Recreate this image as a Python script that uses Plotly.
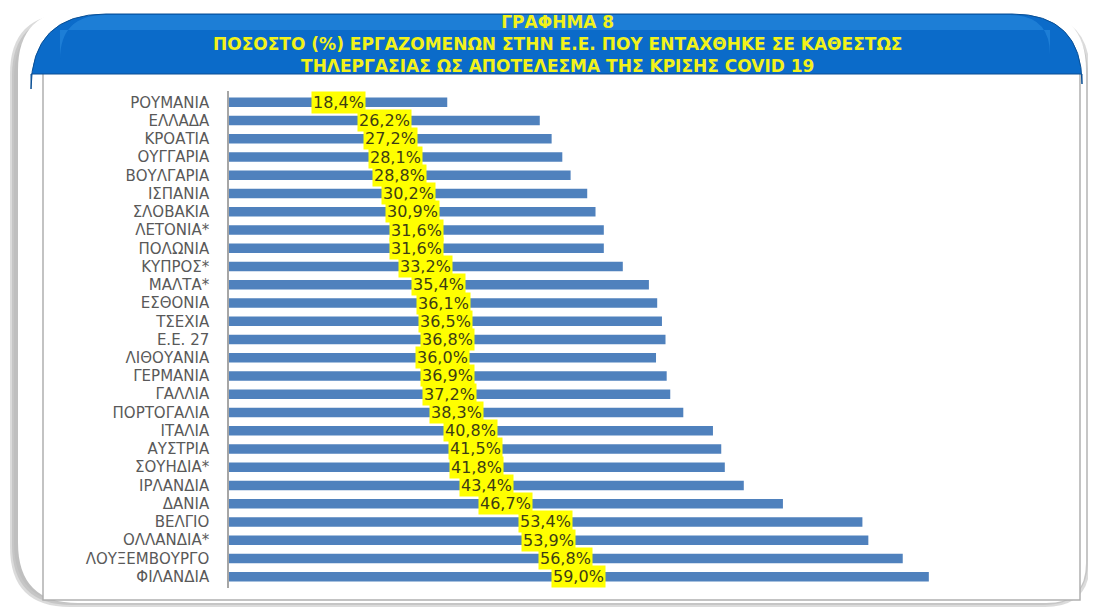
import plotly.graph_objects as go

# page body has an 8px margin: figure is sized to fit the window exactly
OFF = 8
W, H = 1096 - OFF, 608 - OFF

countries = ["ΡΟΥΜΑΝΙΑ", "ΕΛΛΑΔΑ", "ΚΡΟΑΤΙΑ", "ΟΥΓΓΑΡΙΑ", "ΒΟΥΛΓΑΡΙΑ", "ΙΣΠΑΝΙΑ",
             "ΣΛΟΒΑΚΙΑ", "ΛΕΤΟΝΙΑ*", "ΠΟΛΩΝΙΑ", "ΚΥΠΡΟΣ*", "ΜΑΛΤΑ*", "ΕΣΘΟΝΙΑ",
             "ΤΣΕΧΙΑ", "Ε.Ε. 27", "ΛΙΘΟΥΑΝΙΑ", "ΓΕΡΜΑΝΙΑ", "ΓΑΛΛΙΑ", "ΠΟΡΤΟΓΑΛΙΑ",
             "ΙΤΑΛΙΑ", "ΑΥΣΤΡΙΑ", "ΣΟΥΗΔΙΑ*", "ΙΡΛΑΝΔΙΑ", "ΔΑΝΙΑ", "ΒΕΛΓΙΟ",
             "ΟΛΛΑΝΔΙΑ*", "ΛΟΥΞΕΜΒΟΥΡΓΟ", "ΦΙΛΑΝΔΙΑ"]
values = [18.4, 26.2, 27.2, 28.1, 28.8, 30.2, 30.9, 31.6, 31.6, 33.2, 35.4, 36.1,
          36.5, 36.8, 36.0, 36.9, 37.2, 38.3, 40.8, 41.5, 41.8, 43.4, 46.7, 53.4,
          53.9, 56.8, 59.0]
title_lines = ["ΓΡΑΦΗΜΑ 8",
               "ΠΟΣΟΣΤΟ (%) ΕΡΓΑΖΟΜΕΝΩΝ ΣΤΗΝ Ε.Ε. ΠΟΥ ΕΝΤΑΧΘΗΚΕ ΣΕ ΚΑΘΕΣΤΩΣ",
               "ΤΗΛΕΡΓΑΣΙΑΣ ΩΣ ΑΠΟΤΕΛΕΣΜΑ ΤΗΣ ΚΡΙΣΗΣ COVID 19"]


def px(x):
    return (x - OFF) / W


def py(y):
    return 1 - (y - OFF) / H


def rounded(x0, y0, x1, y1, rtl, rtr, rbr, rbl):
    p = [f"M {px(x0 + rtl)} {py(y0)}",
         f"L {px(x1 - rtr)} {py(y0)}",
         f"Q {px(x1)} {py(y0)} {px(x1)} {py(y0 + rtr)}",
         f"L {px(x1)} {py(y1 - rbr)}",
         f"Q {px(x1)} {py(y1)} {px(x1 - rbr)} {py(y1)}",
         f"L {px(x0 + rbl)} {py(y1)}",
         f"Q {px(x0)} {py(y1)} {px(x0)} {py(y1 - rbl)}",
         f"L {px(x0)} {py(y0 + rtl)}",
         f"Q {px(x0)} {py(y0)} {px(x0 + rtl)} {py(y0)}",
         "Z"]
    return " ".join(p)


labels = [f"{v:.1f}".replace(".", ",") + "%" for v in values]

fig = go.Figure()
fig.add_trace(go.Bar(
    y=countries, x=values, orientation="h",
    marker=dict(color="#4F81BD", line=dict(width=0)),
    width=0.52, hoverinfo="skip",
))

shapes = []
for i, (c, o) in enumerate([("#e3e3e3", 1.0), ("#c4c4c4", 0.6), ("#a6a6a6", 0.4)]):
    d = 6 - 2 * i
    shapes.append(dict(type="path", xref="paper", yref="paper", layer="below",
                       path=rounded(8 + d, 12 + d, 1092 - d, 609 - d, 60, 60, 45, 60),
                       fillcolor=c, opacity=o, line=dict(width=0)))
shapes.append(dict(type="path", xref="paper", yref="paper", layer="below",
                   path=rounded(18, 10, 1086, 603, 60, 60, 40, 60),
                   fillcolor="white", line=dict(width=0)))
shapes.append(dict(type="rect", xref="paper", yref="paper", layer="below",
                   x0=px(43), x1=px(1080), y0=py(600), y1=py(73),
                   fillcolor="white", line=dict(color="#b0b0b0", width=1.5)))
shapes.append(dict(type="path", xref="paper", yref="paper", layer="below",
                   path=rounded(31, 14, 1082, 74, 75, 70, 0, 0),
                   fillcolor="#0B6BC9", line=dict(color="#0a4f94", width=1)))
shapes.append(dict(type="path", xref="paper", yref="paper", layer="below",
                   path=rounded(60, 15, 1050, 30, 45, 40, 0, 0),
                   fillcolor="#2a8be0", opacity=0.6, line=dict(width=0)))

annotations = []
for v, c, t in zip(values, countries, labels):
    annotations.append(dict(x=v / 2, y=c, xref="x", yref="y", text=t, showarrow=False,
                            bgcolor="#FFFF00", borderpad=1,
                            font=dict(family="DejaVu Sans", size=16, color="#3d3d14")))
annotations.append(dict(x=px(557), y=py(43.5), xref="paper", yref="paper",
                        text="<br>".join(f"<b>{t}</b>" for t in title_lines),
                        showarrow=False, xanchor="center", yanchor="middle", align="center",
                        font=dict(family="DejaVu Sans", size=17, color="#F2F21A")))

fig.update_layout(
    width=W, height=H, autosize=False,
    margin=dict(l=0, r=0, t=0, b=0),
    paper_bgcolor="white", plot_bgcolor="rgba(0,0,0,0)",
    showlegend=False, bargap=0.48,
    shapes=shapes, annotations=annotations,
    xaxis=dict(domain=[px(229), px(1000)], range=[0, 65], showgrid=False, zeroline=False,
               showticklabels=False, showline=False, fixedrange=True),
    yaxis=dict(domain=[py(588.2), py(90.8)], categoryorder="array", categoryarray=countries,
               tickmode="array", tickvals=countries, ticktext=countries,
               autorange="reversed", showgrid=False, zeroline=False,
               showline=True, linecolor="#a6a6a6", linewidth=1.5,
               ticks="outside", ticklen=15, tickcolor="rgba(0,0,0,0)",
               tickfont=dict(family="DejaVu Sans", size=15, color="#595959"),
               fixedrange=True),
)

fig.write_html("out.html")
